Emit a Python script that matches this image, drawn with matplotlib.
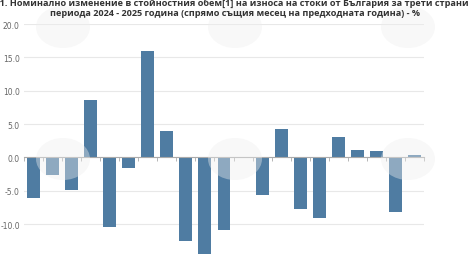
import numpy as np
import matplotlib.pyplot as plt
from matplotlib.patches import Ellipse

# monthly data, Jan 2024 - Sep 2025 (Dec 2024 not shown)
months = ["01.2024", "02.2024", "03.2024", "04.2024", "05.2024", "06.2024",
          "07.2024", "08.2024", "09.2024", "10.2024", "11.2024", "12.2024",
          "01.2025", "02.2025", "03.2025", "04.2025", "05.2025", "06.2025",
          "07.2025", "08.2025", "09.2025"]
change = [-6.1, -2.7, -4.9, 8.6, -10.5, -1.6, 16.0, 3.9, -12.5, -15.2, -10.9, np.nan,
          -5.7, 4.2, -7.8, -9.1, 3.1, 1.1, 0.9, -8.2, 0.3]
y_ticks = [-10, -5, 0, 5, 10, 15, 20]

title1 = ("Фиг. 1. Номинално изменение в стойностния обем[1] на износа на стоки "
          "от България за трети страни през")
title2 = "периода 2024 - 2025 година (спрямо същия месец на предходната година) - %"

W, H = 470, 255
fig = plt.figure(figsize=(W / 100, H / 100), dpi=100)
# plot area runs off the bottom of the image like in the original
ax = fig.add_axes([24 / W, -0.144, 400 / W, 1.0458])

x = np.arange(len(months))
ax.bar(x, change, width=0.68, color="#4f7ca2", zorder=3)

ax.set_xlim(-0.5, len(months) - 0.5)
ax.set_ylim(-20, 20)
ax.set_yticks(y_ticks)
ax.set_yticklabels([f"{v:.1f}" for v in y_ticks])
ax.tick_params(axis="y", length=0, pad=3, labelsize=5.5, labelcolor="#666666")
ax.yaxis.grid(True, color="#e8e8e8", lw=0.8, zorder=0)

for s in ["top", "left", "right"]:
    ax.spines[s].set_visible(False)
ax.spines["bottom"].set_position(("data", 0))
ax.spines["bottom"].set_color("#aaaaaa")
ax.spines["bottom"].set_linewidth(0.8)
ax.spines["bottom"].set_zorder(4)
ax.set_xticks(np.arange(len(months) + 1) - 0.5)
ax.set_xticklabels([])
ax.tick_params(axis="x", length=3, width=0.6, color="#aaaaaa", direction="out")

# faint watermark logos
for cx, cy in [(63, 160), (235, 160), (408, 160), (63, 28), (235, 28), (408, 28)]:
    fig.patches.append(Ellipse((cx / W, 1 - cy / H), 54 / W, 42 / H,
                               transform=fig.transFigure, facecolor="#eeeeee",
                               edgecolor="none", alpha=0.4, zorder=5))

fig.text(0.5, 1 - 3 / H, title1, ha="center", va="center", fontsize=6.6,
         fontweight="bold", family="Open Sans", color="#333333", zorder=10)
fig.text(0.5, 1 - 14 / H, title2, ha="center", va="center", fontsize=6.6,
         fontweight="bold", family="Open Sans", color="#333333", zorder=10)

fig.savefig("out.png", dpi=100)
